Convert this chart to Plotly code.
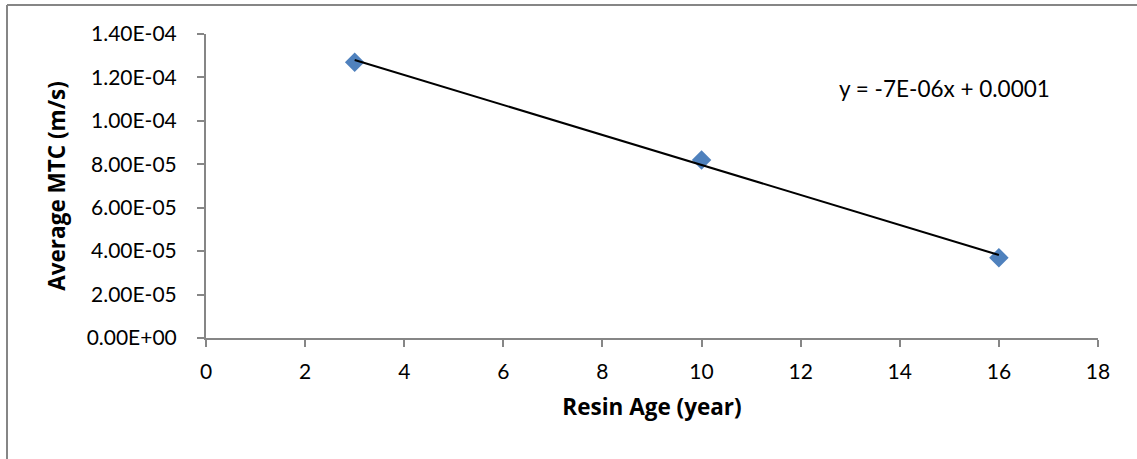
import numpy as np
import plotly.graph_objects as go

# Data
resin_age = [3, 10, 16]
avg_mtc = [1.27e-4, 8.2e-5, 3.7e-5]
x_ticks = [0, 2, 4, 6, 8, 10, 12, 14, 16, 18]
y_ticks = [0, 2e-5, 4e-5, 6e-5, 8e-5, 1e-4, 1.2e-4, 1.4e-4]
y_tick_text = ["0.00E+00", "2.00E-05", "4.00E-05", "6.00E-05", "8.00E-05",
               "1.00E-04", "1.20E-04", "1.40E-04"]
equation_text = "y = -7E-06x + 0.0001"

# Linear trendline (least squares fit of the data)
slope, intercept = np.polyfit(resin_age, avg_mtc, 1)
trend_x = [min(resin_age), max(resin_age)]
trend_y = [slope * v + intercept for v in trend_x]

FONT = "Lato"
TITLE_FONT = "Open Sans"
AXIS_COLOR = "#868686"

fig = go.Figure()
fig.add_trace(go.Scatter(
    x=resin_age, y=avg_mtc, mode="markers",
    marker=dict(symbol="diamond", size=15, color="#4F81BD", line=dict(width=0)),
    showlegend=False, hoverinfo="x+y",
))
fig.add_trace(go.Scatter(
    x=trend_x, y=trend_y, mode="lines",
    line=dict(color="black", width=2),
    showlegend=False, hoverinfo="skip",
))

fig.update_layout(
    width=1137, height=459,
    margin=dict(l=206, r=39, t=34, b=121),
    paper_bgcolor="white", plot_bgcolor="white",
    font=dict(family=FONT, size=21, color="black"),
    xaxis=dict(
        range=[0, 18], tickvals=x_ticks, ticktext=[str(v) for v in x_ticks],
        showgrid=False, zeroline=False,
        showline=True, linecolor=AXIS_COLOR, linewidth=2,
        ticks="outside", ticklen=7, tickwidth=2, tickcolor=AXIS_COLOR,
        ticklabelstandoff=7,
        title=dict(text="<b>Resin Age (year)</b>",
                   font=dict(family=TITLE_FONT, size=22.5), standoff=17),
    ),
    yaxis=dict(
        range=[0, 1.4e-4], tickvals=y_ticks, ticktext=y_tick_text,
        showgrid=False, zeroline=False,
        showline=True, linecolor=AXIS_COLOR, linewidth=2,
        ticks="outside", ticklen=7, tickwidth=2, tickcolor=AXIS_COLOR,
        ticklabelstandoff=16,
        title=dict(text="<b>Average MTC (m/s)</b>",
                   font=dict(family=TITLE_FONT, size=22.5), standoff=15),
    ),
    annotations=[dict(
        x=14.91, y=1.15e-4, xref="x", yref="y", text=equation_text,
        showarrow=False, xanchor="center", yanchor="middle",
        font=dict(family=FONT, size=22.5, color="black"),
    )],
    shapes=[
        # outer chart frame (left and top edges visible in the reference)
        dict(type="line", xref="paper", yref="paper",
             x0=(7 - 206) / 892, x1=(7 - 206) / 892,
             y0=(338 - 5) / 304, y1=(338 - 470) / 304,
             line=dict(color=AXIS_COLOR, width=2), layer="below"),
        dict(type="line", xref="paper", yref="paper",
             x0=(7 - 206) / 892, x1=(1145 - 206) / 892,
             y0=(338 - 5) / 304, y1=(338 - 5) / 304,
             line=dict(color=AXIS_COLOR, width=2), layer="below"),
    ],
)

fig.write_html("out.html")
